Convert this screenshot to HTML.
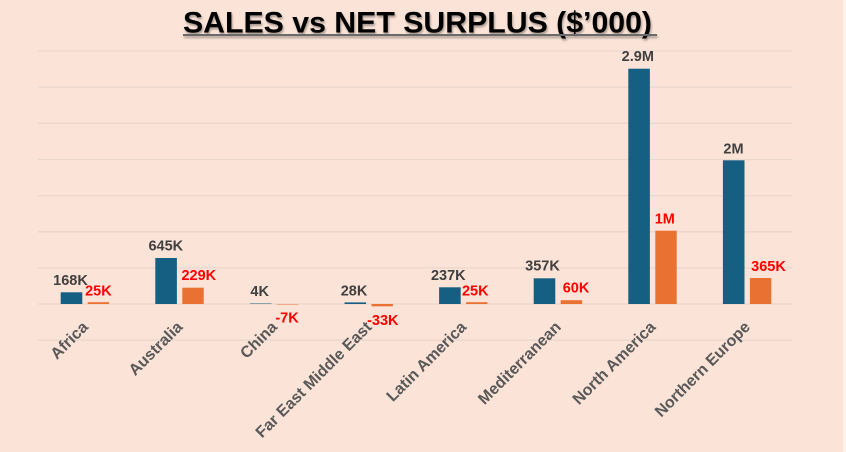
<!DOCTYPE html>
<html>
<head>
<meta charset="utf-8">
<style>
  html, body { margin:0; padding:0; }
  body { width:846px; height:452px; background:#fbe3d7; overflow:hidden; }
  svg { display:block; }
  text { font-family:"Liberation Sans", Arial, sans-serif; font-weight:bold; }
</style>
</head>
<body>
<svg width="846" height="452" viewBox="0 0 846 452" xmlns="http://www.w3.org/2000/svg">
  <defs>
    <filter id="sh" x="-5%" y="-30%" width="110%" height="160%">
      <feDropShadow dx="1" dy="2" stdDeviation="1" flood-color="#000" flood-opacity="0.35"/>
    </filter>
  </defs>
  <rect x="0" y="0" width="846" height="452" fill="#fbe3d7"/>
  <rect x="843" y="0" width="3" height="452" fill="#fdf1ea"/>

  <!-- Title -->
  <g filter="url(#sh)">
    <text x="183" y="32.7" font-size="30" fill="#000" textLength="469" lengthAdjust="spacingAndGlyphs">SALES vs NET SURPLUS ($’000)</text>
    <line x1="183" y1="35" x2="657" y2="35" stroke="#6a6a6a" stroke-width="2"/>
  </g>

  <!-- Gridlines -->
  <g stroke="#ead7ce" stroke-width="1.3">
    <line x1="38" y1="51" x2="792" y2="51"/>
    <line x1="38" y1="87.2" x2="792" y2="87.2"/>
    <line x1="38" y1="123.3" x2="792" y2="123.3"/>
    <line x1="38" y1="159.5" x2="792" y2="159.5"/>
    <line x1="38" y1="195.6" x2="792" y2="195.6"/>
    <line x1="38" y1="231.8" x2="792" y2="231.8"/>
    <line x1="38" y1="267.9" x2="792" y2="267.9"/>
    <line x1="38" y1="304" x2="792" y2="304"/>
    <line x1="38" y1="340.2" x2="792" y2="340.2"/>
  </g>

  <!-- Blue bars (Sales) -->
  <g fill="#156082">
    <rect x="60.7" y="292.3" width="21.6" height="11.7"/>
    <rect x="155.3" y="258" width="21.6" height="46"/>
    <rect x="249.9" y="303.2" width="21.6" height="0.8" opacity="0.6"/>
    <rect x="344.5" y="302.4" width="21.6" height="1.6"/>
    <rect x="439.1" y="287.3" width="21.6" height="16.7"/>
    <rect x="533.7" y="278.3" width="21.6" height="25.7"/>
    <rect x="628.3" y="68.7" width="21.6" height="235.3"/>
    <rect x="722.9" y="160.3" width="21.6" height="143.7"/>
  </g>

  <!-- Orange bars (Net surplus) -->
  <g fill="#e97132">
    <rect x="87.7" y="302.2" width="21.4" height="1.8"/>
    <rect x="182.3" y="287.7" width="21.4" height="16.3"/>
    <rect x="276.9" y="304" width="21.4" height="0.8" opacity="0.6"/>
    <rect x="371.5" y="304" width="21.4" height="2.3"/>
    <rect x="466.1" y="302.2" width="21.4" height="1.8"/>
    <rect x="560.7" y="300.2" width="21.4" height="3.8"/>
    <rect x="655.3" y="230.7" width="21.4" height="73.3"/>
    <rect x="749.9" y="278" width="21.4" height="26"/>
  </g>

  <!-- Sales data labels -->
  <g font-size="14.5" fill="#404040" text-anchor="middle">
    <text x="70.5" y="285">168K</text>
    <text x="165.8" y="250.7">645K</text>
    <text x="259.7" y="296">4K</text>
    <text x="354" y="295.3">28K</text>
    <text x="448.3" y="280">237K</text>
    <text x="542.5" y="270.7">357K</text>
    <text x="637.8" y="61">2.9M</text>
    <text x="733.5" y="153.3">2M</text>
  </g>

  <!-- Net surplus data labels -->
  <g font-size="14.5" fill="#ff0000" text-anchor="middle">
    <text x="98.4" y="295.3">25K</text>
    <text x="198.8" y="280">229K</text>
    <text x="287" y="322.7">-7K</text>
    <text x="382.8" y="325">-33K</text>
    <text x="475.3" y="295.3">25K</text>
    <text x="576" y="292.3">60K</text>
    <text x="664.8" y="223.3">1M</text>
    <text x="768.5" y="271">365K</text>
  </g>

  <!-- Category labels -->
  <g font-size="16" fill="#595959" text-anchor="end">
    <text transform="translate(89,328) rotate(-45)">Africa</text>
    <text transform="translate(183.5,328) rotate(-45)">Australia</text>
    <text transform="translate(278.1,328) rotate(-45)">China</text>
    <text transform="translate(372.7,328) rotate(-45)">Far East Middle East</text>
    <text transform="translate(467.3,328) rotate(-45)">Latin America</text>
    <text transform="translate(561.9,328) rotate(-45)">Mediterranean</text>
    <text transform="translate(656.5,328) rotate(-45)">North America</text>
    <text transform="translate(751.1,328) rotate(-45)">Northern Europe</text>
  </g>
</svg>
</body>
</html>
